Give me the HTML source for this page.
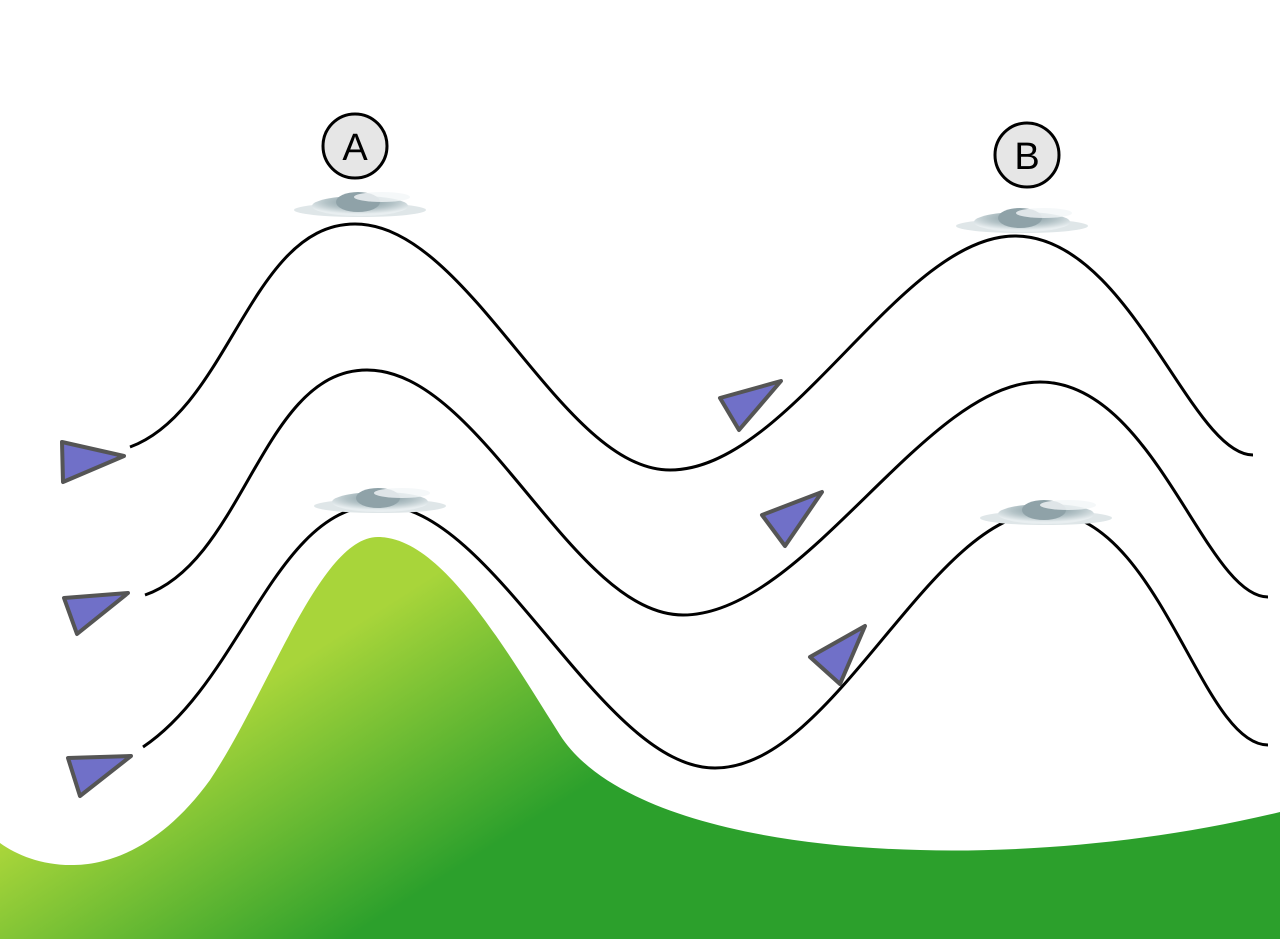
<!DOCTYPE html>
<html><head><meta charset="utf-8"><style>html,body{margin:0;padding:0;background:#fff}svg{display:block}</style></head>
<body>
<svg width="1280" height="939" viewBox="0 0 1280 939" xmlns="http://www.w3.org/2000/svg">
<defs>
<linearGradient id="g" x1="300" y1="660" x2="440" y2="880" gradientUnits="userSpaceOnUse">
<stop offset="0" stop-color="#a8d53a"/><stop offset="1" stop-color="#2ca02c"/>
</linearGradient>
<radialGradient id="c" cx="0.5" cy="0.3" r="0.6">
<stop offset="0" stop-color="#7d949b"/><stop offset="0.6" stop-color="#b5c4c8"/><stop offset="1" stop-color="#e8eef0"/>
</radialGradient>
<g id="cloud">
<ellipse cx="0" cy="8" rx="66" ry="7" fill="#dfe6e8"/>
<ellipse cx="0" cy="4" rx="48" ry="10" fill="url(#c)"/>
<ellipse cx="-2" cy="0" rx="22" ry="10" fill="#8fa2a8"/>
<ellipse cx="22" cy="-5" rx="28" ry="5" fill="#f3f6f7" opacity="0.8"/>
</g>
</defs>
<path d="M0,843 C40,872 130,890 210,780 C270,690 320,537 378,537 C440,537 500,640 560,735 C640,860 1000,880 1280,812 L1280,939 L0,939 Z" fill="url(#g)"/>
<g fill="none" stroke="#000" stroke-width="3">
<path d="M130,447 C230,410 250,224 355,224 C470,224 560,470 670,470 C790,470 900,236 1015,236 C1130,236 1190,455 1253,455"/>
<path d="M145,595 C245,560 262,370 367,370 C482,370 572,615 683,615 C805,615 925,382 1040,382 C1155,382 1205,597 1268,597"/>
<path d="M143,747 C243,680 275,505 380,505 C495,505 600,768 715,768 C835,768 930,512 1045,512 C1160,512 1200,745 1268,745"/>
</g>
<use href="#cloud" x="360" y="202"/>
<use href="#cloud" x="1022" y="218"/>
<use href="#cloud" x="380" y="498"/>
<use href="#cloud" x="1046" y="510"/>
<g fill="#7070c8" stroke="#555" stroke-width="4" stroke-linejoin="round">
<polygon points="62,442 124,456 63,482"/>
<polygon points="64,598 128,593 77,634"/>
<polygon points="68,758 131,756 80,796"/>
<polygon points="720,398 781,381 739,430"/>
<polygon points="762,515 822,492 785,546"/>
<polygon points="810,657 865,626 840,684"/>
</g>
<g fill="#e6e6e6" stroke="#000" stroke-width="3">
<circle cx="355" cy="146" r="32"/>
<circle cx="1027" cy="155" r="32"/>
</g>
<g font-family="Liberation Sans, sans-serif" font-size="38" text-anchor="middle">
<text x="355" y="160">A</text>
<text x="1027" y="169">B</text>
</g>
</svg>
</body></html>
